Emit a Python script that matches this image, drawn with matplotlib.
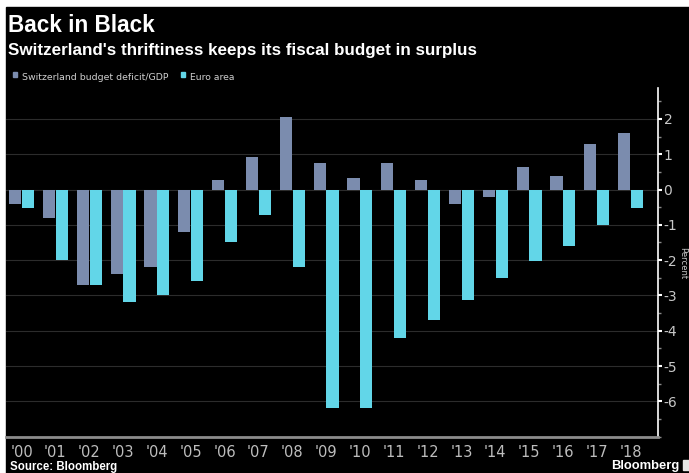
import matplotlib
matplotlib.use('Agg')
import matplotlib.pyplot as plt
import numpy as np
from matplotlib import font_manager as fm
from matplotlib.patches import Rectangle
from matplotlib.ticker import FuncFormatter, MultipleLocator

# ---------------- data ----------------
years = ["'00", "'01", "'02", "'03", "'04", "'05", "'06", "'07", "'08", "'09",
         "'10", "'11", "'12", "'13", "'14", "'15", "'16", "'17", "'18"]
swiss = [-0.40, -0.80, -2.70, -2.40, -2.20, -1.20, 0.28, 0.92, 2.05, 0.74,
         0.34, 0.75, 0.28, -0.42, -0.21, 0.63, 0.37, 1.28, 1.61]
euro = [-0.51, -2.00, -2.70, -3.20, -3.00, -2.60, -1.50, -0.71, -2.20, -6.20,
        -6.20, -4.21, -3.71, -3.13, -2.51, -2.03, -1.60, -1.01, -0.51]
series_names = ["Switzerland budget deficit/GDP", "Euro area"]
y_ticks = [-6, -5, -4, -3, -2, -1, 0, 1, 2]
title = "Back in Black"
subtitle = "Switzerland's thriftiness keeps its fiscal budget in surplus"
source = "Source: Bloomberg"
brand = "Bloomberg"
ylabel = "Percent"

SW_COLOR = '#7b8cae'
EU_COLOR = '#62d6e8'

W, H = 689, 473
fig = plt.figure(figsize=(W / 100, H / 100), dpi=100, facecolor='white')


def fx(p):
    return p / W


def fy(p):
    return 1 - p / H


avail = {f.name for f in fm.fontManager.ttflist}
NARROW = 'Liberation Sans Narrow' if 'Liberation Sans Narrow' in avail else 'DejaVu Sans'
BOLD = 'Liberation Sans' if 'Liberation Sans' in avail else 'DejaVu Sans'

# black background with thin white margin at left/top
fig.patches.append(Rectangle((fx(6), 0), 1, fy(7), transform=fig.transFigure,
                             color='black', zorder=-10))

ax = fig.add_axes([fx(6), fy(437), fx(658) - fx(6), fy(88) - fy(437)])
ax.set_facecolor('black')

x = np.arange(len(years))
ax.bar(x - 0.19, swiss, 0.36, color=SW_COLOR, zorder=3)
ax.bar(x + 0.19, euro, 0.36, color=EU_COLOR, zorder=3)

ax.set_xlim(-0.461, 18.81)
ax.set_ylim(-7.01, 2.875)

ax.yaxis.tick_right()
ax.set_yticks(y_ticks)
ax.yaxis.set_major_formatter(FuncFormatter(lambda v, p: f"{int(round(v))}"))
ax.yaxis.set_minor_locator(MultipleLocator(0.5))
ax.tick_params(axis='y', which='major', direction='out', length=3, width=1.5,
               color='white', labelcolor='#c8c8c8', labelsize=10, pad=1)
ax.tick_params(axis='y', which='minor', direction='out', length=2, width=1,
               color='#888888')
for lab in ax.get_yticklabels():
    lab.set_family(NARROW)

ax.set_xticks(x)
ax.set_xticklabels(years, family=NARROW)
ax.set_xticks(x[1::2], minor=True)
ax.tick_params(axis='x', which='both', length=0, pad=6, labelcolor='#bdbdbd',
               labelsize=10.5)

ax.grid(axis='y', which='major', color='#2c2c2c', lw=0.8, zorder=0)
ax.grid(axis='x', which='minor', color='#2c2c2c', lw=0.8, zorder=0)
ax.set_axisbelow(True)

for s in ('top', 'left'):
    ax.spines[s].set_visible(False)
ax.spines['right'].set_color('white')
ax.spines['right'].set_linewidth(1.2)
ax.spines['bottom'].set_color('#8c8c8c')
ax.spines['bottom'].set_linewidth(2)

fig.canvas.draw()
renderer = fig.canvas.get_renderer()


def fit_text(x0, x1, y_base, s, family, weight, color, base=10):
    t = fig.text(fx(x0), fy(y_base), s, fontsize=base, family=family,
                 weight=weight, color=color, ha='left', va='baseline')
    w = t.get_window_extent(renderer).width
    t.set_fontsize(base * (x1 - x0) / w)
    return t


fit_text(8, 154, 31.5, title, BOLD, 'bold', 'white')
fit_text(8, 478, 55, subtitle, BOLD, 'bold', 'white')
fit_text(22, 168, 80, series_names[0], NARROW, 'normal', '#cfcfcf')
fit_text(190, 235, 80, series_names[1], NARROW, 'normal', '#cfcfcf')
fit_text(10, 117, 470, source, BOLD, 'bold', 'white')
fit_text(611, 680, 469, brand, BOLD, 'bold', 'white')

# legend swatches
fig.patches.append(Rectangle((fx(12.5), fy(77.5)), 4.5 / W, 5 / H,
                             transform=fig.transFigure, color=SW_COLOR))
fig.patches.append(Rectangle((fx(180.5), fy(77.5)), 4.5 / W, 5 / H,
                             transform=fig.transFigure, color=EU_COLOR))
# brand icon (cut off at the right edge)
fig.patches.append(Rectangle((fx(683), fy(470)), 8 / W, 10 / H,
                             transform=fig.transFigure, color='#e6e6e6'))

# rotated axis title, kept inside the picture, right of the tick labels
ticklab_right = max(l.get_window_extent(renderer).x1 for l in ax.get_yticklabels())
left_px = ticklab_right + 1.0
avail_w = (W - 0.5) - left_px
fs_pt = (avail_w / 1.2) * 72 / 100
fig.text(left_px / W, fy(263), ylabel, fontsize=fs_pt, family=NARROW,
         color='#c8c8c8', rotation=270, ha='left', va='center')

fig.savefig('out.png', dpi=100, facecolor=fig.get_facecolor())
